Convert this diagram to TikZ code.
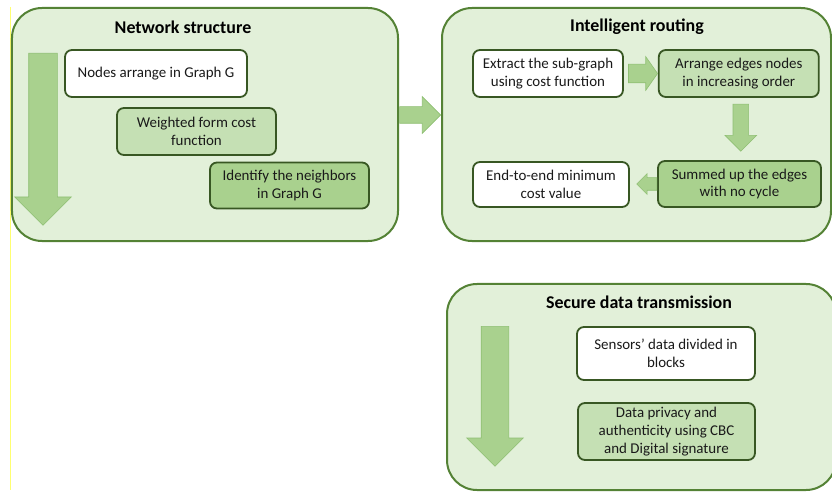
\documentclass[tikz,border=0pt]{standalone}
\usepackage{fontspec}
\setmainfont{Carlito}
\usetikzlibrary{positioning, calc, shapes.arrows}

\definecolor{phaseline}{HTML}{548235}
\definecolor{phasefill}{HTML}{E2F0D9}
\definecolor{stepline}{HTML}{385723}
\definecolor{stepmidfill}{HTML}{C5E0B4}
\definecolor{stepdarkfill}{HTML}{A9D18E}
\definecolor{flowfill}{HTML}{A9D18E}
\definecolor{flowline}{HTML}{8FBF73}
\definecolor{marginline}{HTML}{FFFF70}

\begin{document}
\begin{tikzpicture}[
		x=1bp, y=-1bp,
		% Phase Styles
		phase/.style={rectangle, rounded corners=30bp, draw=phaseline, fill=phasefill, line width=2bp, inner sep=0pt},
		phase_title/.style={font=\fontsize{18}{21}\selectfont\bfseries, text=black},
		% Step Styles
		step_plain/.style={rectangle, rounded corners=7bp, draw=stepline, fill=white, line width=1.8bp, align=center, inner sep=2pt, font=\fontsize{15}{18}\selectfont, text=black!90},
		step_mid/.style={step_plain, fill=stepmidfill},
		step_dark/.style={step_plain, fill=stepdarkfill},
		% Arrow Styles
		flow/.style={single arrow, draw=flowline, fill=flowfill, line width=0.6bp, inner xsep=0pt, minimum width=0pt, single arrow tip angle=90}
		]
		
		\useasboundingbox (0,0) rectangle (832,492);
		\draw[marginline, line width=1.4bp] (10.5,7) -- (10.5,490);
		
		% --- 1. NETWORK STRUCTURE ---
		\node[phase, minimum width=386bp, minimum height=233bp] (netbox) at (205,124.5) {};
		\node[phase_title] (nettitle) at (183,27) {Network structure};
		
		\node[step_plain, minimum width=182bp, minimum height=47bp] (arrange_g) at (156,73.5) {Nodes arrange in Graph G};
		\node[step_mid, minimum width=159bp, minimum height=47bp] (weighted) at (196.5,131.5) {Weighted form cost\\function};
		\node[step_dark, minimum width=159bp, minimum height=46bp] (neighbors) at (289.5,185.5) {Identify the neighbors\\in Graph G};
		
		\node[flow, inner ysep=14bp, single arrow head extend=14bp, minimum height=172bp, rotate=-90, anchor=tail] (netflow) at (43,53) {};
		
		% --- 2. INTELLIGENT ROUTING ---
		\node[phase, minimum width=389bp, minimum height=233bp] (routebox) at (636.5,124.5) {};
		\node[phase_title] (routetitle) at (637,27) {Intelligent routing};
		
		\node[step_plain, minimum width=150bp, minimum height=47bp] (extract) at (548,73.5) {Extract the sub-graph\\using cost function};
		\node[step_mid, minimum width=160bp, minimum height=47bp, right=34bp of extract] (sortedges) {Arrange edges nodes\\in increasing order};
		\node[step_dark, minimum width=163bp, minimum height=46bp] (summed) at (739.5,184) {Summed up the edges\\with no cycle};
		\node[step_plain, minimum width=156bp, minimum height=45bp] (mincost) at (551,184.5) {End-to-end minimum\\cost value};
		
		% Between the two upper phases
		\node[flow, inner ysep=8bp, single arrow head extend=10bp, minimum height=41bp, anchor=tip] (hop) at ($(routebox.west)+(0,-9.5)$) {};
		
		% Inside the routing phase
		\node[flow, inner ysep=9bp, single arrow head extend=7.5bp, single arrow tip angle=110, minimum height=29bp, anchor=tip] (step12) at (sortedges.west) {};
		\node[flow, inner ysep=7.5bp, single arrow head extend=8bp, minimum height=47bp, rotate=-90, anchor=tail] (step23) at ($(sortedges.south)+(2,6)$) {};
		\node[flow, inner ysep=6bp, single arrow head extend=4bp, minimum height=20bp, rotate=180, anchor=tail] (step34) at (summed.west) {};
		
		% --- 3. SECURE DATA TRANSMISSION ---
		\node[phase, minimum width=389bp, minimum height=206bp] (securebox) at (641.5,387) {};
		\node[phase_title] (securetitle) at (639,302) {Secure data transmission};
		
		\node[step_plain, minimum width=178bp, minimum height=53bp] (blocks) at (666,353.5) {Sensors’ data divided in\\blocks};
		\node[step_mid, minimum width=177bp, minimum height=57bp] (privacy) at (666.5,431.5) {Data privacy and\\authenticity using CBC\\and Digital signature};
		
		\node[flow, inner ysep=13.5bp, single arrow head extend=14.5bp, minimum height=140bp, rotate=-90, anchor=tail] (secureflow) at (495,326) {};
		
	\end{tikzpicture}
\end{document}
